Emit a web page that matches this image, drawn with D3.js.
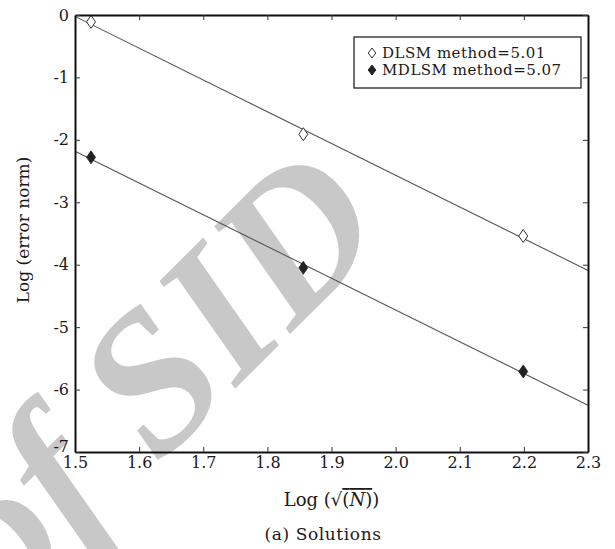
<!DOCTYPE html>
<html>
<head>
<meta charset="utf-8">
<script src="https://cdn.jsdelivr.net/npm/d3@7/dist/d3.min.js"></script>
<style>
  body { margin: 0; background: #fff; }
  text { font-family: "DejaVu Serif", serif; fill: #1a1a1a; }
</style>
</head>
<body>
<div id="chart"></div>
<script>
// values
var logSqrtN = [1.525, 1.856, 2.199];
var dlsmErr = [-0.11, -1.91, -3.54];
var mdlsmErr = [-2.28, -4.05, -5.71];
var seriesNames = ["DLSM method=5.01", "MDLSM method=5.07"];
var xTicks = [1.5, 1.6, 1.7, 1.8, 1.9, 2.0, 2.1, 2.2, 2.3];
var yTicks = [0, -1, -2, -3, -4, -5, -6, -7];

var svgWidth = 615, svgHeight = 549;
var margin = {top: 15, right: 27, bottom: 97, left: 75};
var width = svgWidth - margin.left - margin.right;
var height = svgHeight - margin.top - margin.bottom;

var svg = d3.select("#chart").append("svg")
  .attr("width", svgWidth)
  .attr("height", svgHeight);

// grey watermark behind the plot
svg.append("text")
  .attr("transform", "translate(392,232) rotate(-45)")
  .attr("text-anchor", "end")
  .style("font", "italic bold 198px 'Liberation Serif'")
  .style("fill", "#c8c8c8")
  .text("Archive of SID");

var g = svg.append("g")
  .attr("transform", "translate(" + margin.left + "," + margin.top + ")");

var x = d3.scaleLinear().domain([1.5, 2.3]).range([0, width]);
var y = d3.scaleLinear().domain([-7, 0]).range([height, 0]);

// least-squares line through the points, drawn across the whole x range
function fit(xs, ys) {
  var mx = d3.mean(xs), my = d3.mean(ys);
  var sxy = d3.sum(xs, function(d, i) { return (d - mx) * (ys[i] - my); });
  var sxx = d3.sum(xs, function(d) { return (d - mx) * (d - mx); });
  var b = sxy / sxx;
  return x.domain().map(function(v) { return {x: v, y: my + b * (v - mx)}; });
}

var line = d3.line()
  .x(function(d) { return x(d.x); })
  .y(function(d) { return y(d.y); });

[dlsmErr, mdlsmErr].forEach(function(vals) {
  g.append("path")
    .datum(fit(logSqrtN, vals))
    .attr("d", line)
    .attr("fill", "none")
    .attr("stroke", "#555")
    .attr("stroke-width", 1.1);
});

function diamond(w, h) {
  return "M0," + (-h) + "L" + w + ",0L0," + h + "L" + (-w) + ",0Z";
}

g.selectAll(".open").data(logSqrtN).enter().append("path")
  .attr("class", "open")
  .attr("d", diamond(4.5, 6.5))
  .attr("transform", function(d, i) { return "translate(" + x(d) + "," + y(dlsmErr[i]) + ")"; })
  .attr("fill", "#fff")
  .attr("stroke", "#333")
  .attr("stroke-width", 1);

g.selectAll(".filled").data(logSqrtN).enter().append("path")
  .attr("class", "filled")
  .attr("d", diamond(4.5, 6.5))
  .attr("transform", function(d, i) { return "translate(" + x(d) + "," + y(mdlsmErr[i]) + ")"; })
  .attr("fill", "#222")
  .attr("stroke", "#222")
  .attr("stroke-width", 0.8);

// axes, ticks pointing inward on all four sides
function styleAxis(sel) {
  sel.select(".domain").attr("stroke", "#111").attr("stroke-width", 2);
  sel.selectAll(".tick line").attr("stroke", "#333").attr("stroke-width", 1);
  sel.selectAll(".tick text").style("font-size", "16px").attr("fill", "#1a1a1a");
}

g.append("g")
  .attr("transform", "translate(0," + height + ")")
  .call(d3.axisBottom(x).tickValues(xTicks).tickSizeInner(-5).tickSizeOuter(0).tickPadding(5)
    .tickFormat(d3.format(".1f")))
  .call(styleAxis);

g.append("g")
  .call(d3.axisTop(x).tickValues(xTicks).tickSizeInner(-5).tickSizeOuter(0).tickFormat(""))
  .call(styleAxis);

g.append("g")
  .call(d3.axisLeft(y).tickValues(yTicks).tickSizeInner(-5).tickSizeOuter(0).tickPadding(6)
    .tickFormat(function(d) { return String(d); }))
  .call(styleAxis)
  .selectAll(".tick text")
  .filter(function(d) { return d === -7; })
  .attr("dy", "-0.05em");

g.append("g")
  .attr("transform", "translate(" + width + ",0)")
  .call(d3.axisRight(y).tickValues(yTicks).tickSizeInner(-5).tickSizeOuter(0).tickFormat(""))
  .call(styleAxis);

// axis titles
svg.append("text")
  .attr("transform", "translate(29,230) rotate(-90)")
  .attr("text-anchor", "middle")
  .style("font-size", "17px")
  .text("Log (error norm)");

var xl = svg.append("text")
  .attr("x", margin.left + width / 2)
  .attr("y", 506)
  .attr("text-anchor", "middle")
  .style("font-size", "18px");
xl.append("tspan").text("Log (\u221A");
xl.append("tspan").style("text-decoration", "overline").text("(")
  .append("tspan").style("font-style", "italic").text("N");
xl.append("tspan").style("text-decoration", "overline").text(")");
xl.append("tspan").text(")");

svg.append("text")
  .attr("x", 323)
  .attr("y", 540)
  .attr("text-anchor", "middle")
  .style("font-size", "17px")
  .style("letter-spacing", "0.6px")
  .text("(a) Solutions");

// legend
var legend = svg.append("g").attr("transform", "translate(354,37)");
legend.append("rect")
  .attr("width", 227)
  .attr("height", 51)
  .attr("fill", "#fff")
  .attr("stroke", "#111")
  .attr("stroke-width", 1.2);

seriesNames.forEach(function(name, i) {
  var row = legend.append("g").attr("transform", "translate(0," + (21 + i * 17) + ")");
  row.append("path")
    .attr("d", diamond(3.8, 5))
    .attr("transform", "translate(18,-5)")
    .attr("fill", i === 0 ? "#fff" : "#222")
    .attr("stroke", i === 0 ? "#333" : "#222")
    .attr("stroke-width", 1);
  row.append("text")
    .attr("x", 28)
    .style("font-size", "15px")
    .style("letter-spacing", "0.5px")
    .text(name);
});
</script>
</body>
</html>
